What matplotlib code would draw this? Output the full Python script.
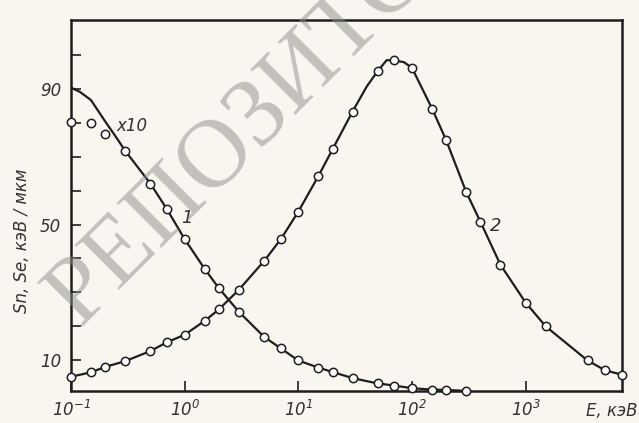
import matplotlib.pyplot as plt
from matplotlib.ticker import NullLocator

plt.rcParams['font.family'] = ['DejaVu Sans']
plt.rcParams['mathtext.fontset'] = 'custom'
plt.rcParams['mathtext.rm'] = 'DejaVu Sans:italic'
plt.rcParams['mathtext.it'] = 'DejaVu Sans:italic'

# curve 1 (nuclear, x10): measured points
e1 = [0.1, 0.15, 0.2, 0.3, 0.5, 0.7, 1, 1.5, 2, 3, 5, 7, 10, 15, 20, 30,
      50, 70, 100, 150, 200, 300]
s1 = [80.3, 80.1, 76.7, 71.8, 62.1, 54.5, 45.7, 36.9, 31.2, 24.2, 16.8,
      13.4, 9.8, 7.7, 6.4, 4.6, 3.0, 2.4, 1.6, 1.2, 1.1, 0.8]
# curve 1 drawn line at low energy (runs above the points)
e1_line_start = [0.1, 0.12, 0.15, 0.2, 0.25]
s1_line_start = [90.5, 89.2, 86.8, 80.5, 75.8]

# curve 2 (electronic)
e2 = [0.1, 0.15, 0.2, 0.3, 0.5, 0.7, 1, 1.5, 2, 3, 5, 7, 10, 15, 20, 30,
      50, 70, 100, 150, 200, 300, 400, 600, 1000, 1500, 3500, 5000, 7000]
s2 = [5.0, 6.3, 7.9, 9.6, 12.6, 15.2, 17.4, 21.5, 24.9, 30.7, 39.2, 45.6,
      53.8, 64.3, 72.2, 83.4, 95.4, 98.5, 96.3, 84.3, 74.9, 59.6, 50.8,
      38.1, 26.9, 19.9, 9.8, 6.9, 5.6]
# extra readings of the drawn line round the peak
e2_peak = [40, 60, 85]
s2_peak = [90.8, 98.6, 98.0]

xticks = [0.1, 1, 10, 100, 1000]
xticklabels = ['$10^{-1}$', '$10^{0}$', '$10^{1}$', '$10^{2}$', '$10^{3}$']
yticks = [10, 20, 30, 40, 50, 60, 70, 80, 90, 100]
ylabels_shown = {10: '10', 50: '50', 90: '90'}

paper = '#f8f6ef'
ink = '#1e1e1e'

fig = plt.figure(figsize=(6.39, 4.23), dpi=100, facecolor=paper)
ax = fig.add_axes([0.111, 0.075, 0.862, 0.878], facecolor=paper)

ax.set_xscale('log')
ax.set_xlim(0.1, 7000)
ax.set_ylim(0.7, 110.5)

line1_e = e1_line_start + e1[3:]
line1_s = s1_line_start + s1[3:]
ax.plot(line1_e, line1_s, color=ink, lw=1.6, zorder=2)

line2 = sorted(zip(e2 + e2_peak, s2 + s2_peak))
ax.plot([p[0] for p in line2], [p[1] for p in line2], color=ink, lw=1.6,
        zorder=2)

mk = dict(ls='none', marker='o', ms=6, mfc='white', mec=ink, mew=1.1,
          zorder=3, clip_on=False)
ax.plot(e1, s1, **mk)
ax.plot(e2, s2, **mk)

ax.set_xticks(xticks)
ax.set_xticklabels(xticklabels)
ax.xaxis.set_minor_locator(NullLocator())
ax.set_yticks(yticks)
ax.set_yticklabels([ylabels_shown.get(v, '') for v in yticks])

ax.tick_params(axis='both', direction='in', length=7, width=1.2, color=ink,
               labelcolor='#333333', labelsize=12)
ax.tick_params(axis='x', pad=6)
ax.tick_params(axis='y', pad=7)
for lab in ax.get_yticklabels():
    lab.set_fontstyle('italic')
for sp in ax.spines.values():
    sp.set_linewidth(1.8)
    sp.set_color(ink)

ax.text(0.25, 79, 'x10', fontsize=12, fontstyle='italic', color='#333333',
        ha='left', va='center')
ax.text(0.93, 52, '1', fontsize=13, fontstyle='italic', color='#333333',
        ha='left', va='center')
ax.text(540, 49.5, '2', fontsize=13, fontstyle='italic', color='#333333',
        ha='center', va='center')

fig.text(0.035, 0.43, 'Sn, Se, кэВ / мкм', rotation=90, fontsize=12,
         fontstyle='italic', color='#333333', ha='center', va='center')
fig.text(0.958, 0.028, 'E, кэВ', fontsize=12, fontstyle='italic',
         color='#333333', ha='center', va='center')

# watermark
fig.text(0.125, 0.225, 'РЕПОЗИТОРИЙ', rotation=45, rotation_mode='anchor',
         fontsize=70, family='Liberation Serif', color='#8c8c8c', alpha=0.5,
         ha='left', va='baseline', zorder=10)

fig.savefig('out.png', dpi=100, facecolor=paper)
